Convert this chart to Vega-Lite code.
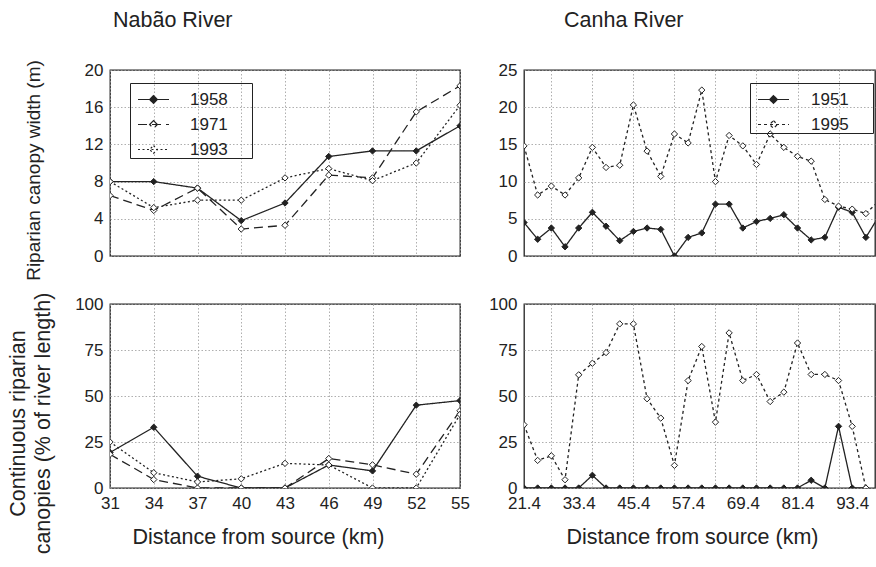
{
  "$schema": "https://vega.github.io/schema/vega-lite/v6.json",
  "background": "white",
  "padding": {"left": 6, "top": 8, "right": 0, "bottom": 5},
  "config": {
    "font": "Liberation Sans",
    "view": {"stroke": "#222", "strokeWidth": 1.3},
    "axis": {"labelFont": "Liberation Sans", "labelFontSize": 17, "labelColor": "#222", "titleFont": "Liberation Sans", "titleFontSize": 21.5, "titleFontWeight": "normal", "titleColor": "#222", "domain": false, "ticks": false, "gridColor": "#9a9a9a", "gridDash": [1.5, 2], "gridWidth": 0.8, "gridOpacity": 1, "labelPadding": 7, "labelFlush": false, "labelOverlap": false, "tickCount": 20},
    "legend": {"labelFont": "Liberation Sans", "labelFontSize": 17, "labelColor": "#222", "labelLimit": 300},
    "title": {"font": "Liberation Sans", "fontSize": 21.5, "fontWeight": "normal", "color": "#222", "anchor": "start", "frame": "group", "baseline": "alphabetic"}
  },
  "datasets": {
    "nw": [
      {"d": 31, "v": 8.0, "y": "1958"}, {"d": 34, "v": 8.0, "y": "1958"}, {"d": 37, "v": 7.3, "y": "1958"}, {"d": 40, "v": 3.8, "y": "1958"}, {"d": 43, "v": 5.7, "y": "1958"}, {"d": 46, "v": 10.7, "y": "1958"}, {"d": 49, "v": 11.3, "y": "1958"}, {"d": 52, "v": 11.3, "y": "1958"}, {"d": 55, "v": 14.0, "y": "1958"},
      {"d": 31, "v": 6.5, "y": "1971"}, {"d": 34, "v": 4.9, "y": "1971"}, {"d": 37, "v": 7.3, "y": "1971"}, {"d": 40, "v": 2.9, "y": "1971"}, {"d": 43, "v": 3.3, "y": "1971"}, {"d": 46, "v": 8.7, "y": "1971"}, {"d": 49, "v": 8.4, "y": "1971"}, {"d": 52, "v": 15.5, "y": "1971"}, {"d": 55, "v": 18.3, "y": "1971"},
      {"d": 31, "v": 8.0, "y": "1993"}, {"d": 34, "v": 5.2, "y": "1993"}, {"d": 37, "v": 6.0, "y": "1993"}, {"d": 40, "v": 6.0, "y": "1993"}, {"d": 43, "v": 8.4, "y": "1993"}, {"d": 46, "v": 9.4, "y": "1993"}, {"d": 49, "v": 8.1, "y": "1993"}, {"d": 52, "v": 10.0, "y": "1993"}, {"d": 55, "v": 16.2, "y": "1993"}
    ],
    "np": [
      {"d": 31, "v": 19.3, "y": "1958"}, {"d": 34, "v": 33, "y": "1958"}, {"d": 37, "v": 6.4, "y": "1958"}, {"d": 40, "v": 0, "y": "1958"}, {"d": 43, "v": 0, "y": "1958"}, {"d": 46, "v": 12.5, "y": "1958"}, {"d": 49, "v": 9.3, "y": "1958"}, {"d": 52, "v": 45, "y": "1958"}, {"d": 55, "v": 47.5, "y": "1958"},
      {"d": 31, "v": 18.3, "y": "1971"}, {"d": 34, "v": 4.6, "y": "1971"}, {"d": 37, "v": 0, "y": "1971"}, {"d": 40, "v": 0, "y": "1971"}, {"d": 43, "v": 0, "y": "1971"}, {"d": 46, "v": 16, "y": "1971"}, {"d": 49, "v": 12.6, "y": "1971"}, {"d": 52, "v": 7.5, "y": "1971"}, {"d": 55, "v": 42, "y": "1971"},
      {"d": 31, "v": 25, "y": "1993"}, {"d": 34, "v": 8.3, "y": "1993"}, {"d": 37, "v": 3.3, "y": "1993"}, {"d": 40, "v": 5, "y": "1993"}, {"d": 43, "v": 13.4, "y": "1993"}, {"d": 46, "v": 12.5, "y": "1993"}, {"d": 49, "v": 0, "y": "1993"}, {"d": 52, "v": 0, "y": "1993"}, {"d": 55, "v": 40, "y": "1993"}
    ],
    "cw": [
      {"d": 21.4, "v": 4.5, "y": "1951"}, {"d": 24.4, "v": 2.25, "y": "1951"}, {"d": 27.4, "v": 3.76, "y": "1951"}, {"d": 30.4, "v": 1.24, "y": "1951"}, {"d": 33.4, "v": 3.76, "y": "1951"}, {"d": 36.4, "v": 5.87, "y": "1951"}, {"d": 39.4, "v": 4.0, "y": "1951"}, {"d": 42.4, "v": 2.06, "y": "1951"}, {"d": 45.4, "v": 3.3, "y": "1951"}, {"d": 48.4, "v": 3.76, "y": "1951"}, {"d": 51.4, "v": 3.58, "y": "1951"}, {"d": 54.4, "v": 0, "y": "1951"}, {"d": 57.4, "v": 2.5, "y": "1951"}, {"d": 60.4, "v": 3.1, "y": "1951"}, {"d": 63.4, "v": 6.97, "y": "1951"}, {"d": 66.4, "v": 6.97, "y": "1951"}, {"d": 69.4, "v": 3.76, "y": "1951"}, {"d": 72.4, "v": 4.63, "y": "1951"}, {"d": 75.4, "v": 5.05, "y": "1951"}, {"d": 78.4, "v": 5.55, "y": "1951"}, {"d": 81.4, "v": 3.76, "y": "1951"}, {"d": 84.4, "v": 2.16, "y": "1951"}, {"d": 87.4, "v": 2.5, "y": "1951"}, {"d": 90.4, "v": 6.56, "y": "1951"}, {"d": 93.4, "v": 5.87, "y": "1951"}, {"d": 96.4, "v": 2.5, "y": "1951"}, {"d": 99.4, "v": 5.5, "y": "1951"},
      {"d": 21.4, "v": 14.8, "y": "1995"}, {"d": 24.4, "v": 8.2, "y": "1995"}, {"d": 27.4, "v": 9.4, "y": "1995"}, {"d": 30.4, "v": 8.2, "y": "1995"}, {"d": 33.4, "v": 10.5, "y": "1995"}, {"d": 36.4, "v": 14.6, "y": "1995"}, {"d": 39.4, "v": 11.9, "y": "1995"}, {"d": 42.4, "v": 12.2, "y": "1995"}, {"d": 45.4, "v": 20.3, "y": "1995"}, {"d": 48.4, "v": 14.1, "y": "1995"}, {"d": 51.4, "v": 10.7, "y": "1995"}, {"d": 54.4, "v": 16.4, "y": "1995"}, {"d": 57.4, "v": 15.2, "y": "1995"}, {"d": 60.4, "v": 22.3, "y": "1995"}, {"d": 63.4, "v": 10.0, "y": "1995"}, {"d": 66.4, "v": 16.2, "y": "1995"}, {"d": 69.4, "v": 14.8, "y": "1995"}, {"d": 72.4, "v": 12.3, "y": "1995"}, {"d": 75.4, "v": 16.4, "y": "1995"}, {"d": 78.4, "v": 14.6, "y": "1995"}, {"d": 81.4, "v": 13.4, "y": "1995"}, {"d": 84.4, "v": 12.75, "y": "1995"}, {"d": 87.4, "v": 7.6, "y": "1995"}, {"d": 90.4, "v": 6.7, "y": "1995"}, {"d": 93.4, "v": 6.3, "y": "1995"}, {"d": 96.4, "v": 5.7, "y": "1995"}, {"d": 99.4, "v": 7.5, "y": "1995"}
    ],
    "cp": [
      {"d": 21.4, "v": 0, "y": "1951"}, {"d": 24.4, "v": 0, "y": "1951"}, {"d": 27.4, "v": 0, "y": "1951"}, {"d": 30.4, "v": 0, "y": "1951"}, {"d": 33.4, "v": 0, "y": "1951"}, {"d": 36.4, "v": 6.9, "y": "1951"}, {"d": 39.4, "v": 0, "y": "1951"}, {"d": 42.4, "v": 0, "y": "1951"}, {"d": 45.4, "v": 0, "y": "1951"}, {"d": 48.4, "v": 0, "y": "1951"}, {"d": 51.4, "v": 0, "y": "1951"}, {"d": 54.4, "v": 0, "y": "1951"}, {"d": 57.4, "v": 0, "y": "1951"}, {"d": 60.4, "v": 0, "y": "1951"}, {"d": 63.4, "v": 0, "y": "1951"}, {"d": 66.4, "v": 0, "y": "1951"}, {"d": 69.4, "v": 0, "y": "1951"}, {"d": 72.4, "v": 0, "y": "1951"}, {"d": 75.4, "v": 0, "y": "1951"}, {"d": 78.4, "v": 0, "y": "1951"}, {"d": 81.4, "v": 0, "y": "1951"}, {"d": 84.4, "v": 4.2, "y": "1951"}, {"d": 87.4, "v": 0, "y": "1951"}, {"d": 90.4, "v": 33.5, "y": "1951"}, {"d": 93.4, "v": 0, "y": "1951"}, {"d": 96.4, "v": 0, "y": "1951"},
      {"d": 21.4, "v": 34.4, "y": "1995"}, {"d": 24.4, "v": 15.0, "y": "1995"}, {"d": 27.4, "v": 17.5, "y": "1995"}, {"d": 30.4, "v": 4.5, "y": "1995"}, {"d": 33.4, "v": 61.5, "y": "1995"}, {"d": 36.4, "v": 67.8, "y": "1995"}, {"d": 39.4, "v": 73.6, "y": "1995"}, {"d": 42.4, "v": 89.2, "y": "1995"}, {"d": 45.4, "v": 89.2, "y": "1995"}, {"d": 48.4, "v": 48.5, "y": "1995"}, {"d": 51.4, "v": 38.0, "y": "1995"}, {"d": 54.4, "v": 12.3, "y": "1995"}, {"d": 57.4, "v": 58.4, "y": "1995"}, {"d": 60.4, "v": 76.9, "y": "1995"}, {"d": 63.4, "v": 35.8, "y": "1995"}, {"d": 66.4, "v": 84.3, "y": "1995"}, {"d": 69.4, "v": 58.4, "y": "1995"}, {"d": 72.4, "v": 61.7, "y": "1995"}, {"d": 75.4, "v": 47.0, "y": "1995"}, {"d": 78.4, "v": 52.1, "y": "1995"}, {"d": 81.4, "v": 78.8, "y": "1995"}, {"d": 84.4, "v": 61.7, "y": "1995"}, {"d": 87.4, "v": 61.7, "y": "1995"}, {"d": 90.4, "v": 58.4, "y": "1995"}, {"d": 93.4, "v": 33.5, "y": "1995"}, {"d": 96.4, "v": 0, "y": "1995"}
    ]
  },
  "columns": 2,
  "spacing": {"row": 48, "column": 64},
  "bounds": "flush",
  "resolve": {"scale": {"strokeDash": "independent", "fill": "independent"}, "legend": {"strokeDash": "independent", "fill": "independent"}},
  "concat": [
    {
      "width": 350, "height": 186,
      "title": {"text": "Nabão River", "dx": 3, "offset": 26},
      "data": {"name": "nw"},
      "layer": [
        {
          "mark": {"type": "line", "stroke": "#222", "strokeWidth": 1.3, "clip": true},
          "encoding": {
            "x": {"field": "d", "type": "quantitative", "scale": {"domain": [31, 55], "nice": false, "zero": false}, "axis": {"values": [31, 34, 37, 40, 43, 46, 49, 52, 55], "labels": false, "title": null}},
            "y": {"field": "v", "type": "quantitative", "scale": {"domain": [0, 20], "nice": false}, "axis": {"values": [0, 4, 8, 12, 16, 20], "title": "Riparian canopy  width (m)", "titleFontSize": 19, "titleX": -77, "titleY": 100, "titleAngle": 270, "titleAlign": "center", "titleBaseline": "middle"}},
            "strokeDash": {"field": "y", "type": "nominal", "scale": {"domain": ["1958", "1971", "1993"], "range": [[1, 0], [9, 5], [2, 2.5]]},
              "legend": {"title": null, "orient": "none", "legendX": 20, "legendY": 13, "strokeColor": "#222", "padding": 0, "symbolOffset": 7, "symbolType": "M-1,0H1M0,-0.25L0.25,0L0,0.25L-0.25,0Z", "symbolSize": 961, "symbolStrokeColor": "#222", "symbolStrokeWidth": 1.2, "labelOffset": 20, "rowPadding": 0, "labelExpr": "datum.label + '\u00a0\u00a0\u00a0\u00a0\u00a0\u200b'"}}
          }
        },
        {
          "mark": {"type": "point", "shape": "diamond", "filled": true, "stroke": "#222", "strokeWidth": 1, "size": 40, "opacity": 1, "clip": true},
          "encoding": {
            "x": {"field": "d", "type": "quantitative"},
            "y": {"field": "v", "type": "quantitative"},
            "fill": {"field": "y", "type": "nominal", "scale": {"domain": ["1958", "1971", "1993"], "range": ["#222", "white", "white"]},
              "legend": {"title": null, "orient": "none", "legendX": 20, "legendY": 13, "strokeColor": "#222", "padding": 0, "symbolOffset": 7, "symbolType": "M-1,0H1M0,-0.25L0.25,0L0,0.25L-0.25,0Z", "symbolSize": 961, "symbolStrokeColor": "#222", "symbolStrokeWidth": 1.2, "labelOffset": 20, "rowPadding": 0, "labelExpr": "datum.label + '\u00a0\u00a0\u00a0\u00a0\u00a0\u200b'"}}
          }
        }
      ]
    },
    {
      "width": 351, "height": 186,
      "title": {"text": "Canha River", "dx": 40, "offset": 30},
      "data": {"name": "cw"},
      "layer": [
        {
          "mark": {"type": "line", "stroke": "#222", "strokeWidth": 1.3, "clip": true},
          "encoding": {
            "x": {"field": "d", "type": "quantitative", "scale": {"domain": [21.4, 98.4], "nice": false, "zero": false}, "axis": {"values": [27.4, 36.4, 45.4, 54.4, 63.4, 72.4, 81.4, 90.4], "labels": false, "title": null}},
            "y": {"field": "v", "type": "quantitative", "scale": {"domain": [0, 25], "nice": false}, "axis": {"values": [0, 5, 10, 15, 20, 25], "title": null}},
            "strokeDash": {"field": "y", "type": "nominal", "scale": {"domain": ["1951", "1995"], "range": [[1, 0], [3, 3]]},
              "legend": {"title": null, "orient": "none", "legendX": 226, "legendY": 13, "strokeColor": "#222", "padding": 0, "symbolOffset": 7, "symbolType": "M-1,0H1M0,-0.25L0.25,0L0,0.25L-0.25,0Z", "symbolSize": 961, "symbolStrokeColor": "#222", "symbolStrokeWidth": 1.2, "labelOffset": 21, "rowPadding": 0, "labelExpr": "datum.label + '\u00a0\u00a0\u00a0\u00a0\u00a0\u200b'"}}
          }
        },
        {
          "mark": {"type": "point", "shape": "diamond", "filled": true, "stroke": "#222", "strokeWidth": 1, "size": 40, "opacity": 1, "clip": true},
          "encoding": {
            "x": {"field": "d", "type": "quantitative"},
            "y": {"field": "v", "type": "quantitative"},
            "fill": {"field": "y", "type": "nominal", "scale": {"domain": ["1951", "1995"], "range": ["#222", "white"]},
              "legend": {"title": null, "orient": "none", "legendX": 226, "legendY": 13, "strokeColor": "#222", "padding": 0, "symbolOffset": 7, "symbolType": "M-1,0H1M0,-0.25L0.25,0L0,0.25L-0.25,0Z", "symbolSize": 961, "symbolStrokeColor": "#222", "symbolStrokeWidth": 1.2, "labelOffset": 21, "rowPadding": 0, "labelExpr": "datum.label + '\u00a0\u00a0\u00a0\u00a0\u00a0\u200b'"}}
          }
        }
      ]
    },
    {
      "width": 350, "height": 184,
      "data": {"name": "np"},
      "layer": [
        {
          "mark": {"type": "line", "stroke": "#222", "strokeWidth": 1.3, "clip": true},
          "encoding": {
            "x": {"field": "d", "type": "quantitative", "scale": {"domain": [31, 55], "nice": false, "zero": false}, "axis": {"values": [31, 34, 37, 40, 43, 46, 49, 52, 55], "title": "Distance from source (km)", "titleX": 148, "titlePadding": 15}},
            "y": {"field": "v", "type": "quantitative", "scale": {"domain": [0, 100], "nice": false}, "axis": {"values": [0, 25, 50, 75, 100], "title": ["Continuous riparian", "canopies (% of river length)"], "titleLineHeight": 25, "titleX": -92, "titleY": 119, "titleAngle": 270, "titleAlign": "center", "titleBaseline": "middle"}},
            "strokeDash": {"field": "y", "type": "nominal", "scale": {"domain": ["1958", "1971", "1993"], "range": [[1, 0], [9, 5], [2, 2.5]]}, "legend": null}
          }
        },
        {
          "mark": {"type": "point", "shape": "diamond", "filled": true, "stroke": "#222", "strokeWidth": 1, "size": 40, "opacity": 1, "clip": true},
          "encoding": {
            "x": {"field": "d", "type": "quantitative"},
            "y": {"field": "v", "type": "quantitative"},
            "fill": {"field": "y", "type": "nominal", "scale": {"domain": ["1958", "1971", "1993"], "range": ["#222", "white", "white"]}, "legend": null}
          }
        }
      ]
    },
    {
      "width": 351, "height": 184,
      "data": {"name": "cp"},
      "resolve": {"axis": {"x": "independent"}},
      "layer": [
        {
          "mark": {"type": "line", "stroke": "#222", "strokeWidth": 1.3, "clip": true},
          "encoding": {
            "x": {"field": "d", "type": "quantitative", "scale": {"domain": [21.4, 98.4], "nice": false, "zero": false}, "axis": {"orient": "bottom", "values": [27.4, 36.4, 45.4, 54.4, 63.4, 72.4, 81.4, 90.4], "labels": false, "title": null}},
            "y": {"field": "v", "type": "quantitative", "scale": {"domain": [0, 100], "nice": false}, "axis": {"values": [0, 25, 50, 75, 100], "title": null}},
            "strokeDash": {"field": "y", "type": "nominal", "scale": {"domain": ["1951", "1995"], "range": [[1, 0], [3, 3]]}, "legend": null}
          }
        },
        {
          "mark": {"type": "point", "shape": "diamond", "filled": true, "stroke": "#222", "strokeWidth": 1, "size": 40, "opacity": 1, "clip": true},
          "encoding": {
            "x": {"field": "d", "type": "quantitative", "axis": {"orient": "bottom", "values": [21.4, 33.4, 45.4, 57.4, 69.4, 81.4, 93.4], "format": ".1f", "grid": false, "title": "Distance from source (km)", "titleX": 168, "titlePadding": 15}},
            "y": {"field": "v", "type": "quantitative"},
            "fill": {"field": "y", "type": "nominal", "scale": {"domain": ["1951", "1995"], "range": ["#222", "white"]}, "legend": null}
          }
        }
      ]
    }
  ]
}
